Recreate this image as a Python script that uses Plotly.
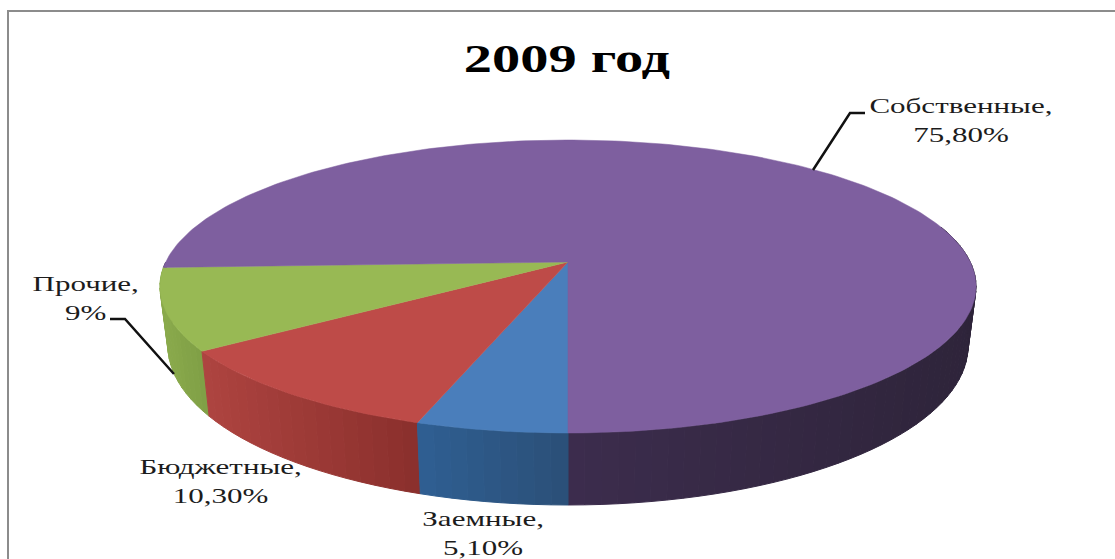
import math
import plotly.graph_objects as go

# --- data, clockwise from the bottom of the pie ---
categories = ["Заемные", "Бюджетные", "Прочие", "Собственные"]
values = [5.1, 10.3, 9, 75.8]
value_labels = ["5,10%", "10,30%", "9%", "75,80%"]
top_colors = ["#4A7EBB", "#BE4B48", "#98B954", "#7E5F9F"]
wall_left_colors = ["#2F5F92", "#AE4440", "#8AAA4C", "#4A3560"]
wall_right_colors = ["#2B4F78", "#8A2F2C", "#7F9F45", "#2E243A"]
title_text = "2009 год"

# --- pie geometry (perspective view of a cylinder) ---
CX, APEX_Y = 568.0, 262.0
K = 0.1672
A, B = 402.3, 142.4
TOP_RX, TOP_CY, TOP_RY = 408.0, 286.5, 146.5
BOT_RX, BOT_CY, BOT_RY = 400.0, 346.0, 159.0
STRETCH = 1.41


def top_point(theta):
    u, v = -math.sin(theta), math.cos(theta)
    d = 1 - K * v
    return CX + A * u / d, APEX_Y + B * v / d


def bottom_point(theta):
    x, y = top_point(theta)
    return CX + (x - CX) * BOT_RX / TOP_RX, BOT_CY + (y - TOP_CY) * BOT_RY / TOP_RY


def lerp_color(c0, c1, t):
    a = [int(c0[i:i + 2], 16) for i in (1, 3, 5)]
    b = [int(c1[i:i + 2], 16) for i in (1, 3, 5)]
    return "rgb(%d,%d,%d)" % tuple(round(p + (q - p) * t) for p, q in zip(a, b))


# the labels are percentages of 100 (they add up to 100.2), the last slice closes the circle
edges = [0.0]
for val in values:
    edges.append(min(edges[-1] + val / 100 * 2 * math.pi, 2 * math.pi))
edges[-1] = 2 * math.pi

fig = go.Figure()

# side walls
for i in reversed(range(len(categories))):
    start, end = edges[i], edges[i + 1]
    n = max(4, int((end - start) / 0.035))
    xs = [top_point(start + (end - start) * j / n)[0] for j in range(n + 1)]
    lo, hi = min(xs), max(xs)
    for j in range(n):
        t0 = start + (end - start) * j / n
        t1 = start + (end - start) * (j + 1) / n
        mid = (t0 + t1) / 2
        if math.cos(mid) < (0.0 if math.sin(mid) > 0 else -0.25):
            continue
        p0, p1 = top_point(t0), top_point(t1)
        q0, q1 = bottom_point(t0), bottom_point(t1)
        frac = ((p0[0] + p1[0]) / 2 - lo) / (hi - lo)
        col = lerp_color(wall_left_colors[i], wall_right_colors[i], frac)
        fig.add_trace(go.Scatter(
            x=[p0[0], p1[0], q1[0], q0[0], p0[0]],
            y=[p0[1], p1[1], q1[1], q0[1], p0[1]],
            mode="lines", fill="toself", fillcolor=col,
            line=dict(color=col, width=1), hoverinfo="skip", showlegend=False))

# top faces
for i, name in enumerate(categories):
    start, end = edges[i], edges[i + 1]
    n = max(8, int((end - start) / 0.02))
    pts = [top_point(start + (end - start) * j / n) for j in range(n + 1)]
    xs = [CX] + [p[0] for p in pts] + [CX]
    ys = [APEX_Y] + [p[1] for p in pts] + [APEX_Y]
    fig.add_trace(go.Scatter(
        x=xs, y=ys, mode="lines", fill="toself", fillcolor=top_colors[i],
        line=dict(color=top_colors[i], width=0.5), name=name,
        hoverinfo="text", text=f"{name}, {value_labels[i]}", showlegend=False))

label_pos = {"Заемные": (483, 533), "Бюджетные": (220, 481),
             "Прочие": (85, 298), "Собственные": (961, 120)}
annotations = []
for name, lab in zip(categories, value_labels):
    x, y = label_pos[name]
    annotations.append(dict(
        x=x, y=y, xref="x", yref="y", text=f"{name},<br>{lab}", showarrow=False,
        align="center", font=dict(family="Liberation Serif", size=22, color="#1c1c1c")))

shapes = [
    dict(type="path", path="M 110 319 L 125 319 L 174 374", xref="x", yref="y",
         line=dict(color="#111111", width=2.5)),
    dict(type="path", path="M 813 170 L 850 113 L 865 113", xref="x", yref="y",
         line=dict(color="#111111", width=2.5)),
    dict(type="path", path="M 8 559 L 8 11 L 1115 11", xref="x", yref="y",
         line=dict(color="#8c8c8c", width=2)),
]

fig.update_layout(
    width=1115, height=559, margin=dict(l=0, r=0, t=0, b=0),
    paper_bgcolor="white", plot_bgcolor="white", showlegend=False,
    title=dict(text=f"<b>{title_text}</b>", x=567 / 1115, xanchor="center",
               y=1 - 58 / 559, yanchor="middle",
               font=dict(family="Liberation Serif", size=40, color="#000000")),
    xaxis=dict(range=[0, 1115], visible=False, fixedrange=True),
    yaxis=dict(range=[559, 0], visible=False, fixedrange=True),
    annotations=annotations, shapes=shapes)

post = """
document.body.style.margin = '0';
document.querySelectorAll('.annotation-text, .gtitle').forEach(function (t) {
  t.style.transformBox = 'fill-box';
  t.style.transformOrigin = 'center';
  t.style.transform = 'scaleX(%s)';
});
""" % STRETCH

fig.write_html("out.html", post_script=post, config={"displayModeBar": False})
